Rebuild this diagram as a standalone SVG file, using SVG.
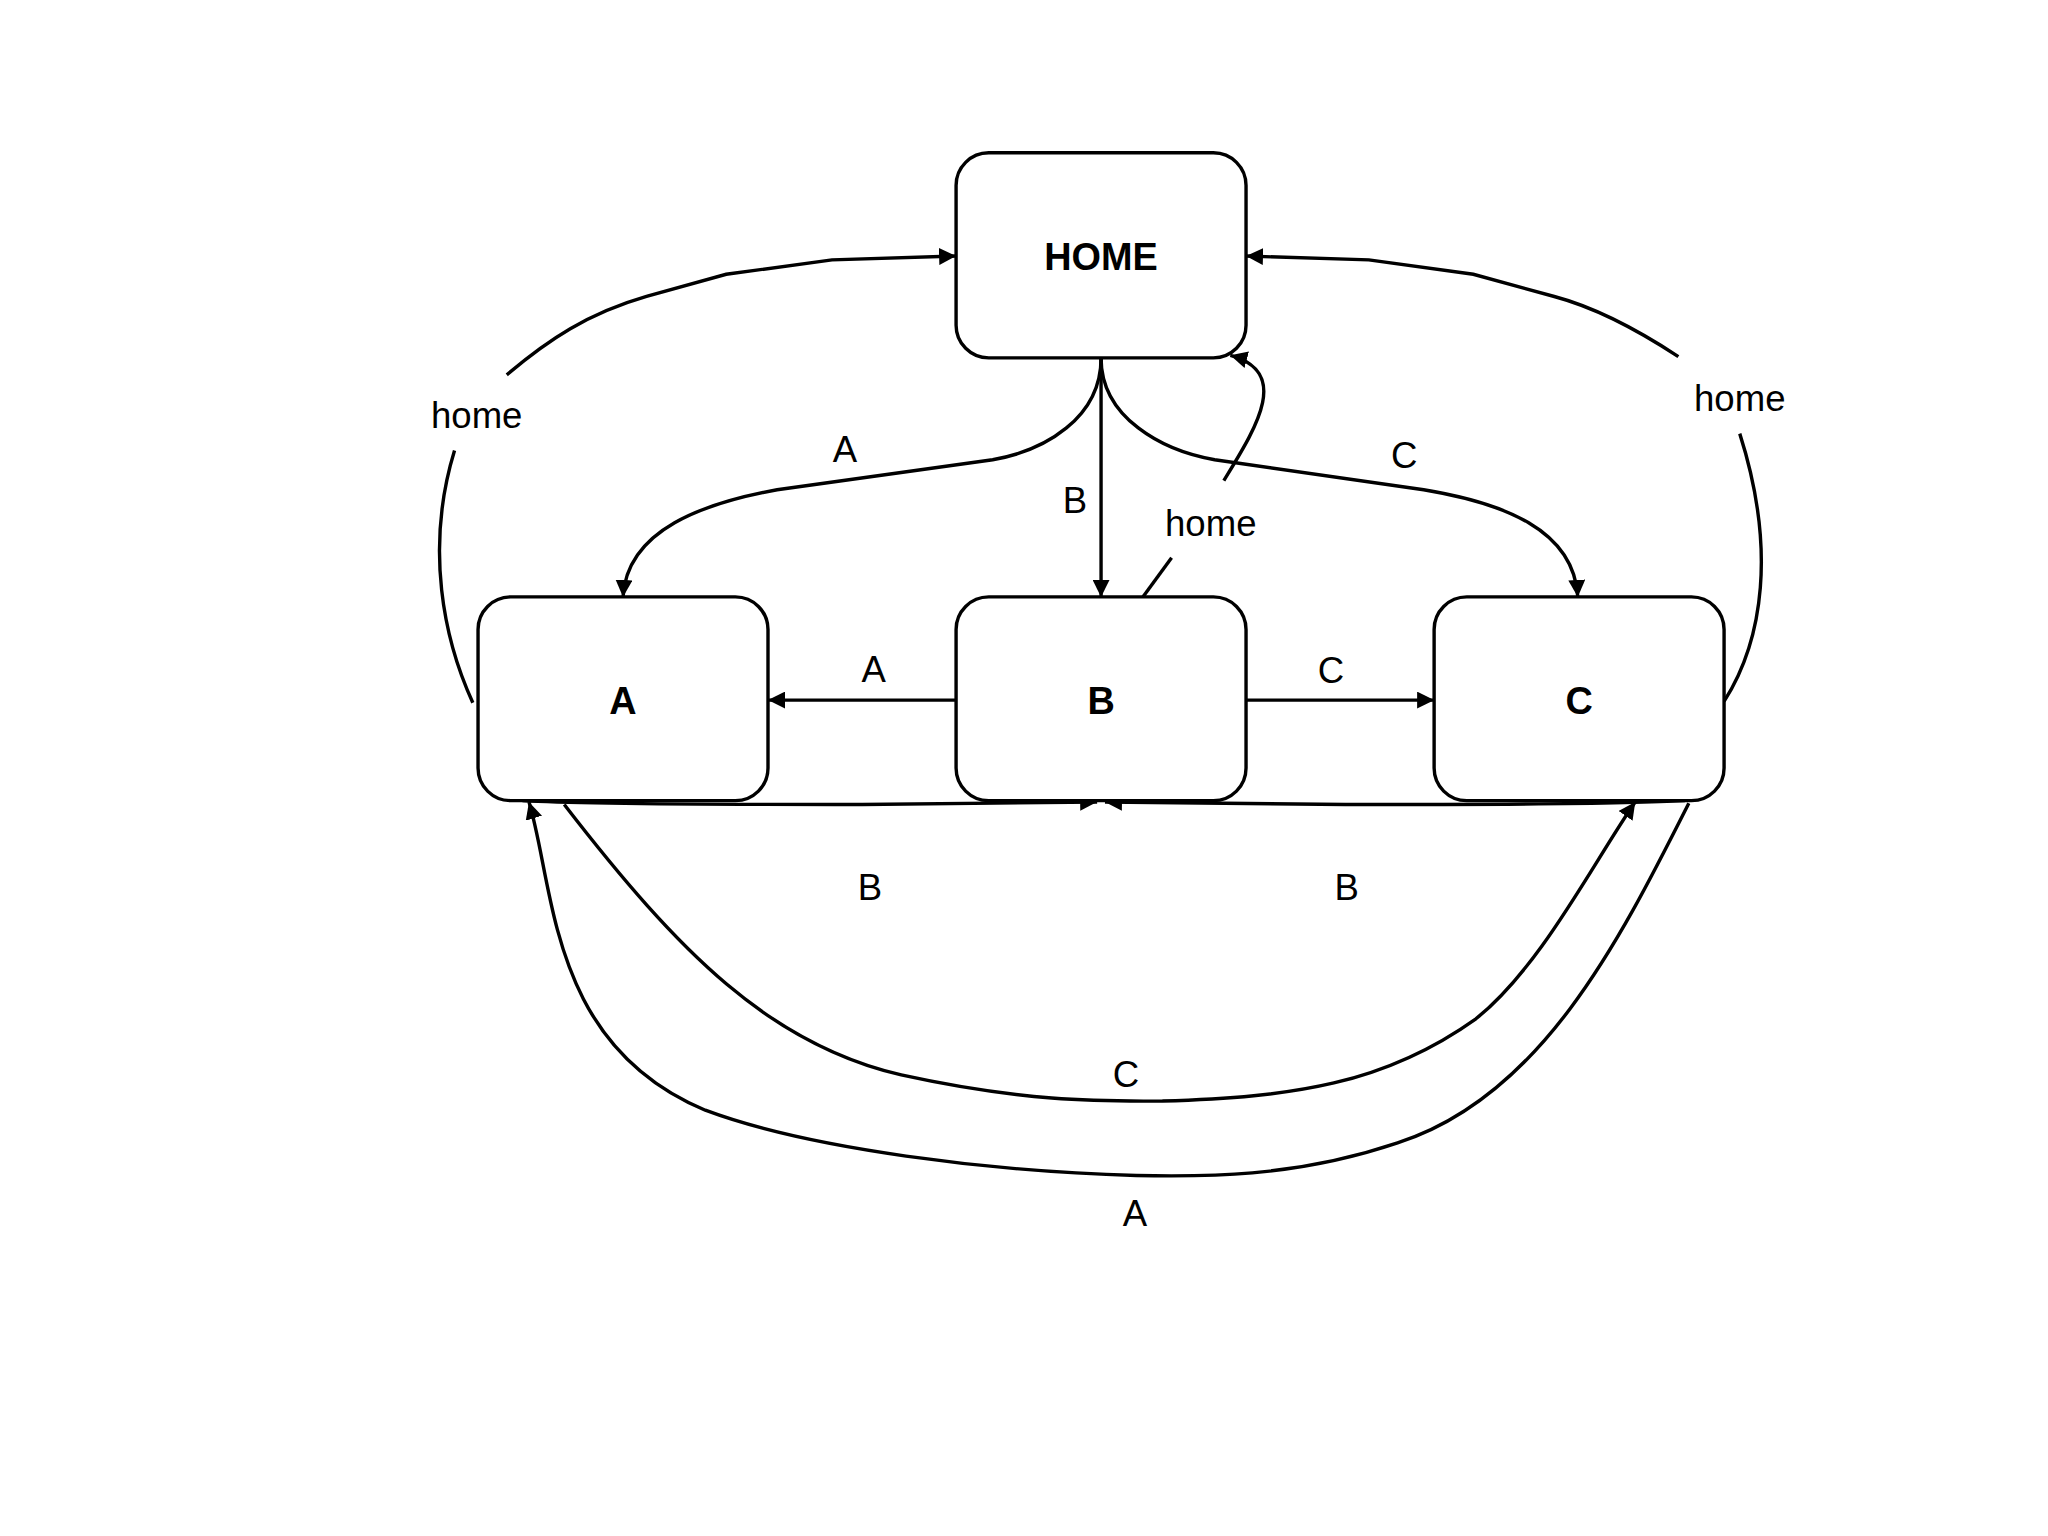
<svg xmlns="http://www.w3.org/2000/svg" width="2048" height="1536" viewBox="0 0 2048 1536">
<defs>
<marker id="ar" viewBox="0 0 10 10" refX="10" refY="5" markerWidth="5" markerHeight="5" orient="auto" markerUnits="strokeWidth"><path d="M0,0 L10,5 L0,10 z" fill="#000"/></marker>
<style>
.n{fill:#fff;stroke:#000;stroke-width:2.6}
.nt{font-family:"Liberation Sans",Arial,sans-serif;font-weight:bold;font-size:29px;text-anchor:middle}
.e{fill:none;stroke:#000;stroke-width:2.6;marker-end:url(#ar)}
.ep{fill:none;stroke:#000;stroke-width:2.6}
.l{font-family:"Liberation Sans",Arial,sans-serif;font-size:28px;text-anchor:middle}
</style>
</defs>
<rect width="2048" height="1536" fill="#fff"/>
<g transform="scale(1.30612)">
<g id="edges">
<path class="e" d="M843,274 C843,320 800,345 760,352 L595,375 C540,385 480,405 477,457"/>
<path class="e" d="M843,274 L843,457"/>
<path class="e" d="M843,274 C843,320 890,345 930,352 L1090,375 C1150,385 1205,405 1208,457"/>
<path class="ep" d="M875,457 L897,427"/>
<path class="e" d="M937,368 C960,330 990,285 942,272"/>
<path class="ep" d="M362,538 C340,490 325,420 348,345"/>
<path class="e" d="M388,287 C420,260 450,240 495,227 L556,210 L637,199 L732,196"/>
<path class="ep" d="M1320,537 C1350,490 1360,420 1332,332"/>
<path class="e" d="M1285,273 C1250,250 1220,235 1190,227 L1128,210 L1048,199 L954,196"/>
<path class="e" d="M732,536 L588,536"/>
<path class="e" d="M954,536 L1098,536"/>
<path class="e" d="M400,613 C450,616 600,616 660,616 L840,614"/>
<path class="e" d="M1290,613 C1240,616 1090,616 1030,616 L846,614"/>
<path class="e" d="M432,616 C520,730 590,800 690,823 C790,845 850,843 890,843 C990,840 1060,830 1130,780 C1180,740 1220,660 1252,614"/>
<path class="e" d="M1293,615 C1240,720 1180,840 1070,875 C990,902 920,901 870,900 C760,897 620,880 540,850 C420,800 425,680 405,614"/>
<text class="l" x="647" y="354">A</text>
<text class="l" x="823" y="393">B</text>
<text class="l" x="1075" y="358">C</text>
<text class="l" x="927" y="410">home</text>
<text class="l" x="365" y="328">home</text>
<text class="l" x="1332" y="315">home</text>
<text class="l" x="669" y="522">A</text>
<text class="l" x="1019" y="523">C</text>
<text class="l" x="666" y="689">B</text>
<text class="l" x="1031" y="689">B</text>
<text class="l" x="862" y="832">C</text>
<text class="l" x="869" y="939">A</text>
</g>
<g id="HOME"><rect class="n" x="732" y="117" width="222" height="157" rx="25"/><text class="nt" x="843" y="207">HOME</text></g>
<g id="A"><rect class="n" x="366" y="457" width="222" height="156" rx="25"/><text class="nt" x="477" y="547">A</text></g>
<g id="B"><rect class="n" x="732" y="457" width="222" height="156" rx="25"/><text class="nt" x="843" y="547">B</text></g>
<g id="C"><rect class="n" x="1098" y="457" width="222" height="156" rx="25"/><text class="nt" x="1209" y="547">C</text></g>
</g>
</svg>
